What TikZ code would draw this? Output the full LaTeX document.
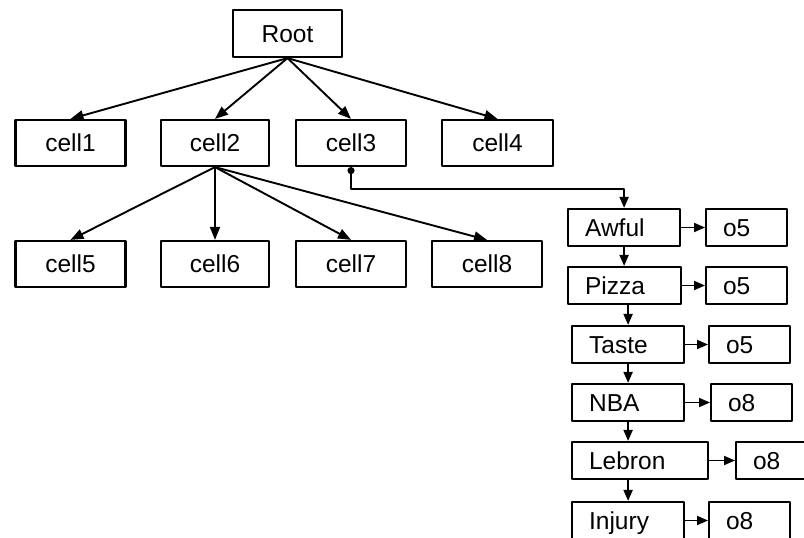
\documentclass[tikz,border=0pt]{standalone}
\usepackage{fontspec}
\setmainfont{Liberation Sans}
\usetikzlibrary{arrows.meta}

\tikzset{
  cellbox/.style={draw, line width=2.2pt, minimum width=110pt, minimum height=46pt, inner sep=0pt, text height=17.5pt, text depth=0pt},
  wordbox/.style={draw, line width=2.2pt, anchor=west, minimum height=37pt, inner xsep=17pt, inner ysep=0pt, text width=#1, align=left, text height=17.5pt, text depth=0pt},
  bigarr/.style={line width=1.9pt, -{Triangle[length=13pt,width=10pt]}},
  smallarr/.style={line width=1.9pt, -{Triangle[length=11pt,width=9pt]}}
}

\begin{document}
\begin{tikzpicture}[x=1pt, y=-1pt, font=\fontsize{24.5}{28}\selectfont, line join=round]
  \useasboundingbox (0,0) rectangle (804,538);

  % tree
  \node[cellbox, minimum width=109pt, minimum height=47pt] (root) at (287.5,33.5) {Root};
  \node[cellbox] (cell1) at (70.5,143) {cell1};
  \node[cellbox, minimum width=108pt] (cell2) at (215,143) {cell2};
  \node[cellbox] (cell3) at (351,143) {cell3};
  \node[cellbox, minimum width=111pt] (cell4) at (497.5,143) {cell4};
  \node[cellbox] (cell5) at (70.5,264) {cell5};
  \node[cellbox, minimum width=108pt] (cell6) at (215,264) {cell6};
  \node[cellbox] (cell7) at (351,264) {cell7};
  \node[cellbox] (cell8) at (487,264) {cell8};

  \foreach \c in {cell1,cell2,cell3,cell4}
    \draw[bigarr] (root.south) -- (\c.north);
  \foreach \c in {cell5,cell6,cell7,cell8}
    \draw[bigarr] (cell2.south) -- (\c.north);

  % word list
  \node[wordbox=78pt] (awful) at (567,227.5) {Awful};
  \node[wordbox=47pt] (o5a) at (705,227.5) {o5};
  \node[wordbox=79pt] (pizza) at (567,285.5) {Pizza};
  \node[wordbox=47pt] (o5b) at (705,285.5) {o5};
  \node[wordbox=78pt] (taste) at (571,344.5) {Taste};
  \node[wordbox=47pt] (o5c) at (708,344.5) {o5};
  \node[wordbox=78pt] (nba) at (571,402.5) {NBA};
  \node[wordbox=47pt] (o8a) at (710,402.5) {o8};
  \node[wordbox=102pt] (lebron) at (571,460.5) {Lebron};
  \node[wordbox=47pt] (o8b) at (735,460.5) {o8};
  \node[wordbox=78pt] (injury) at (571,520.5) {Injury};
  \node[wordbox=47pt] (o8c) at (708,520.5) {o8};

  \draw[line width=1.9pt, {Circle[length=7pt]}-{Triangle[length=11pt,width=9pt]}]
    (cell3.south) -- ++(0,22) -| (awful.north);

  \draw[smallarr] (awful.south) -- (pizza.north -| awful.south);
  \draw[smallarr] (pizza.south -| taste.north) -- (taste.north);
  \draw[smallarr] (taste.south) -- (nba.north);
  \draw[smallarr] (nba.south) -- (lebron.north -| nba.south);
  \draw[smallarr] (lebron.south -| injury.north) -- (injury.north);

  \draw[smallarr] (awful.east) -- (o5a.west);
  \draw[smallarr] (pizza.east) -- (o5b.west);
  \draw[smallarr] (taste.east) -- (o5c.west);
  \draw[smallarr] (nba.east) -- (o8a.west);
  \draw[smallarr] (lebron.east) -- (o8b.west);
  \draw[smallarr] (injury.east) -- (o8c.west);
\end{tikzpicture}
\end{document}
